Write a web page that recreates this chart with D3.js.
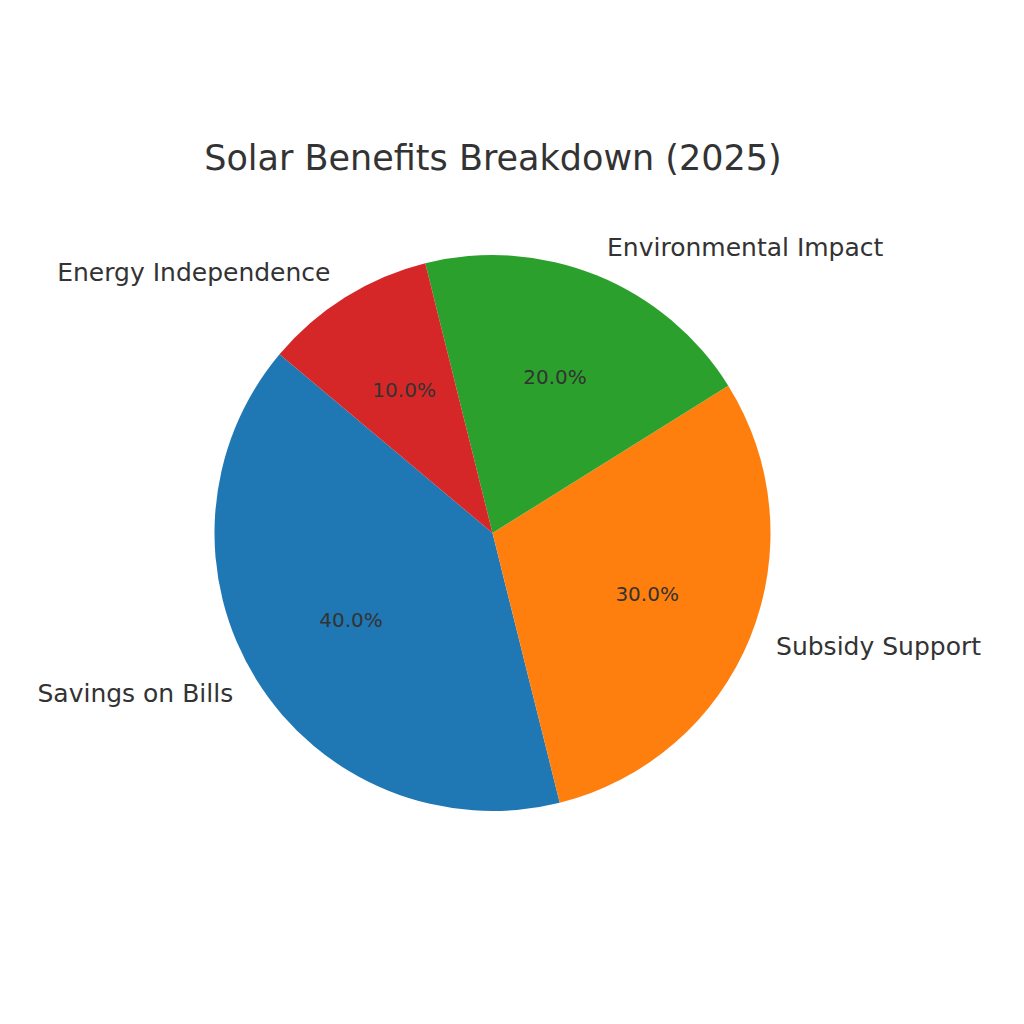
<!DOCTYPE html>
<html>
<head>
<meta charset="utf-8">
<script src="https://cdn.jsdelivr.net/npm/d3@7"></script>
<style>
  body { margin: 0; background: #fff; }
  text { font-family: "DejaVu Sans", sans-serif; fill: #333; }
</style>
</head>
<body>
<div id="chart"></div>
<script>
// data
const categories = ["Savings on Bills", "Subsidy Support", "Environmental Impact", "Energy Independence"];
const values = [40, 30, 20, 10];
const colors = ["#1f77b4", "#ff7f0e", "#2ca02c", "#d62728"];

const width = 1024, height = 1024,
    cx = 492.5, cy = 533, radius = 278;

const svg = d3.select("#chart").append("svg")
  .attr("width", width).attr("height", height);

svg.append("text")
  .attr("x", 493).attr("y", 160)
  .attr("text-anchor", "middle").attr("dominant-baseline", "middle")
  .style("font-size", "35px")
  .text("Solar Benefits Breakdown (2025)");

// matplotlib startangle=140, counterclockwise
const start = (90 - 140) * Math.PI / 180;
const pie = d3.pie().sort(null).startAngle(start).endAngle(start - 2 * Math.PI);
const arcs = pie(values);
const arc = d3.arc().innerRadius(0).outerRadius(radius);

const g = svg.append("g").attr("transform", `translate(${cx},${cy})`);

g.selectAll("path").data(arcs).join("path")
  .attr("d", arc)
  .attr("fill", (d, i) => colors[i]);

const mid = d => (d.startAngle + d.endAngle) / 2;

g.selectAll("text.pct").data(arcs).join("text")
  .attr("class", "pct")
  .attr("x", d => Math.sin(mid(d)) * radius * 0.6)
  .attr("y", d => -Math.cos(mid(d)) * radius * 0.6)
  .attr("text-anchor", "middle").attr("dominant-baseline", "middle")
  .style("font-size", "20px")
  .text(d => d.value.toFixed(1) + "%");

g.selectAll("text.lbl").data(arcs).join("text")
  .attr("class", "lbl")
  .attr("x", d => Math.sin(mid(d)) * radius * 1.1)
  .attr("y", d => -Math.cos(mid(d)) * radius * 1.1)
  .attr("text-anchor", d => Math.sin(mid(d)) > 0 ? "start" : "end")
  .attr("dominant-baseline", "middle")
  .style("font-size", "25px")
  .text((d, i) => categories[i]);
</script>
</body>
</html>
